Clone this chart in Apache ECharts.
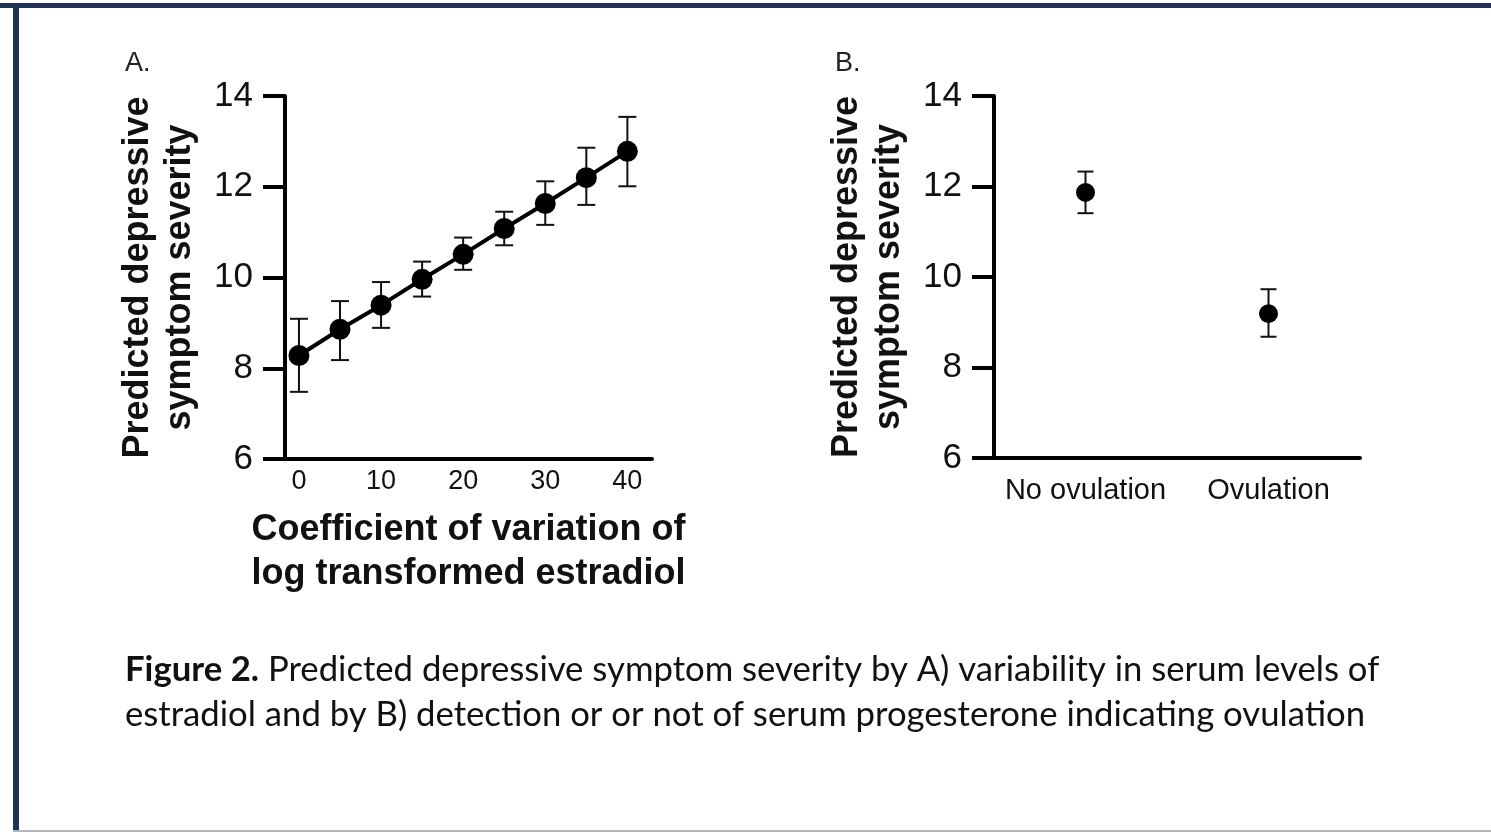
<!DOCTYPE html>
<html>
<head>
<meta charset="utf-8">
<script src="https://cdn.jsdelivr.net/npm/echarts@6/dist/echarts.min.js"></script>
<style>
html,body{margin:0;padding:0;background:#fff;}
#chart{width:1491px;height:832px;}
</style>
</head>
<body>
<div id="chart"></div>
<script>
// ---- Panel A data ----
const cvValues = [0, 5, 10, 15, 20, 25, 30, 35, 40];
const predictedA = [8.28, 8.86, 9.39, 9.96, 10.51, 11.08, 11.63, 12.20, 12.78];
const lowerA = [7.48, 8.18, 8.89, 9.58, 10.17, 10.71, 11.16, 11.60, 12.01];
const upperA = [9.09, 9.48, 9.90, 10.35, 10.88, 11.45, 12.12, 12.86, 13.54];
const xTicksA = [0, 10, 20, 30, 40];

// ---- Panel B data ----
const groupsB = ['No ovulation', 'Ovulation'];
const predictedB = [11.87, 9.19];
const lowerB = [11.41, 8.68];
const upperB = [12.33, 9.73];

const yTitle = 'Predicted depressive\nsymptom severity';
const xTitleA = 'Coefficient of variation of\nlog transformed estradiol';
const captionBold = 'Figure 2.';
const captionLine1 = ' Predicted depressive symptom severity by A) variability in serum levels of';
const captionLine2 = 'estradiol and by B) detection or or not of serum progesterone indicating ovulation';

const AF = '"Liberation Sans", Arial, Helvetica, sans-serif';
const CF = 'Lato, "Open Sans", sans-serif';

const chart = echarts.init(document.getElementById('chart'), null, {renderer: 'canvas'});

function errRender(capHalf) {
  return function (params, api) {
    const x = api.value(0);
    const lo = api.coord([x, api.value(1)]);
    const hi = api.coord([x, api.value(2)]);
    const st = {stroke: '#111', lineWidth: 2};
    return {
      type: 'group',
      children: [
        {type: 'line', shape: {x1: lo[0], y1: lo[1], x2: hi[0], y2: hi[1]}, style: st},
        {type: 'line', shape: {x1: lo[0] - capHalf, y1: lo[1], x2: lo[0] + capHalf, y2: lo[1]}, style: st},
        {type: 'line', shape: {x1: hi[0] - capHalf, y1: hi[1], x2: hi[0] + capHalf, y2: hi[1]}, style: st}
      ]
    };
  };
}

function makeY(gridIndex) {
  return {
    gridIndex: gridIndex,
    type: 'value', min: 6, max: 14, interval: 2,
    name: yTitle, nameLocation: 'middle', nameRotate: 90, nameGap: 84,
    nameTextStyle: {fontFamily: AF, fontWeight: 'bold', fontSize: 36, lineHeight: 42, color: '#111'},
    axisLine: {show: true, onZero: false, lineStyle: {color: '#000', width: 4}},
    axisTick: {show: true, length: 22, lineStyle: {color: '#000', width: 4}},
    axisLabel: {fontFamily: AF, fontSize: 35, color: '#111', margin: 32},
    splitLine: {show: false}
  };
}

const option = {
  backgroundColor: '#fff',
  animation: false,
  grid: [
    {left: 285, top: 96, width: 367, height: 363},
    {left: 994, top: 96, width: 366, height: 362}
  ],
  xAxis: [
    {
      gridIndex: 0, type: 'value', min: -1.7, max: 43,
      name: xTitleA, nameLocation: 'middle', nameGap: 49,
      nameTextStyle: {fontFamily: AF, fontWeight: 'bold', fontSize: 36, lineHeight: 44, color: '#111', verticalAlign: 'top'},
      axisLine: {show: true, onZero: false, lineStyle: {color: '#000', width: 4}},
      axisTick: {show: false},
      axisLabel: {customValues: xTicksA, fontFamily: AF, fontSize: 27, color: '#111', margin: 9},
      splitLine: {show: false}
    },
    {
      gridIndex: 1, type: 'category', data: groupsB, boundaryGap: true,
      axisLine: {show: true, onZero: false, lineStyle: {color: '#000', width: 4}},
      axisTick: {show: false},
      axisLabel: {interval: 0, fontFamily: AF, fontSize: 29, color: '#111', margin: 18},
      splitLine: {show: false}
    }
  ],
  yAxis: [makeY(0), makeY(1)],
  series: [
    {
      type: 'custom', xAxisIndex: 0, yAxisIndex: 0, z: 2,
      renderItem: errRender(9),
      data: cvValues.map((x, i) => [x, lowerA[i], upperA[i]])
    },
    {
      type: 'line', xAxisIndex: 0, yAxisIndex: 0, z: 3,
      data: cvValues.map((x, i) => [x, predictedA[i]]),
      symbol: 'circle', symbolSize: 21,
      lineStyle: {color: '#000', width: 4},
      itemStyle: {color: '#000', opacity: 1}
    },
    {
      type: 'custom', xAxisIndex: 1, yAxisIndex: 1, z: 2,
      renderItem: errRender(8),
      data: groupsB.map((g, i) => [i, lowerB[i], upperB[i]])
    },
    {
      type: 'scatter', xAxisIndex: 1, yAxisIndex: 1, z: 3,
      data: groupsB.map((g, i) => [i, predictedB[i]]),
      symbol: 'circle', symbolSize: 19,
      itemStyle: {color: '#000', opacity: 1}
    }
  ],
  graphic: [
    {type: 'rect', left: 0, top: 3, shape: {width: 1491, height: 5}, style: {fill: '#1f3157'}, silent: true},
    {type: 'rect', left: 13, top: 3, shape: {width: 6, height: 829}, style: {fill: '#1f3157'}, silent: true},
    {type: 'rect', left: 13, top: 830, shape: {width: 1478, height: 2}, style: {fill: '#b4b4bc'}, silent: true},
    {type: 'text', left: 125, top: 50, style: {text: 'A.', font: '27px ' + AF, fill: '#222'}},
    {type: 'text', left: 835, top: 50, style: {text: 'B.', font: '27px ' + AF, fill: '#222'}},
    {
      type: 'text', left: 125, top: 652,
      style: {
        text: '{b|' + captionBold + '}{n|' + captionLine1 + '}',
        rich: {
          b: {fontFamily: CF, fontWeight: 'bold', fontSize: 34.7, fill: '#111'},
          n: {fontFamily: CF, fontSize: 34.7, fill: '#111'}
        }
      }
    },
    {
      type: 'text', left: 125, top: 697,
      style: {
        text: '{n|' + captionLine2 + '}',
        rich: {
          n: {fontFamily: CF, fontSize: 34.7, fill: '#111'}
        }
      }
    }
  ]
};
chart.setOption(option);
</script>
</body>
</html>
